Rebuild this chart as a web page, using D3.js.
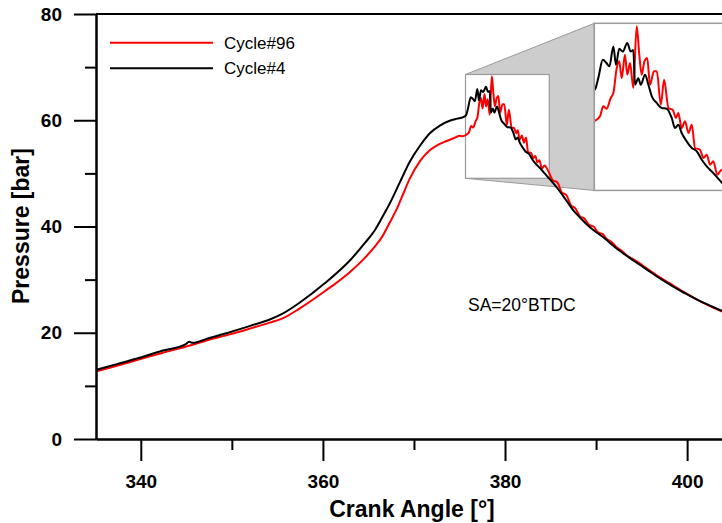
<!DOCTYPE html>
<html><head><meta charset="utf-8">
<script src="https://cdn.jsdelivr.net/npm/d3@7"></script>
<style>
body{margin:0;background:#fff;}
svg{display:block;}
text{font-family:"Liberation Sans",Arial,sans-serif;}
</style></head><body>
<svg id="chart" width="722" height="523"></svg>
<script>
// ---- data ----
const seriesNames = ["Cycle#96", "Cycle#4"];
const seriesColors = ["#ff0000", "#000000"];

const cycle4Angle = [335.06,337.38,339.86,342.34,344.90,345.30,345.70,347.30,349.78,352.01,354.16,355.57,357.47,360.20,363.01,364.66,365.74,366.73,367.39,368.47,369.54,370.70,371.77,372.85,373.92,374.75,375.41,
375.71,375.93,376.24,376.49,376.69,376.96,377.14,377.36,377.60,377.91,378.14,378.32,378.44,378.66,378.83,379.12,379.35,379.58,379.92,380.26,380.60,380.94,381.17,381.39,381.62,381.96,382.31,382.65,382.99,383.33,383.78,384.35,
384.92,385.75,386.57,387.48,388.23,389.05,389.88,390.54,391.20,391.95,392.78,393.60,394.84,396.08,397.32,398.48,399.80,401.04,402.28,403.85];
const cycle4Pressure = [13.0,14.1,15.3,16.6,17.8,18.3,18.1,18.9,20.1,21.3,22.5,23.6,25.7,29.3,33.7,37.0,39.4,42.4,44.5,48.4,52.2,55.3,57.6,59.0,59.9,60.3,60.6,
60.9,62.2,64.35,63.97,63.58,65.9,63.77,65.64,65.3,66.3,65.3,65.5,61.43,62.2,61.43,62.6,61.43,60.08,59.3,58.7,58.63,57.54,56.37,56.75,55.78,54.81,54.03,53.64,52.66,51.89,51.1,50.0,
48.9,47.2,45.3,43.1,41.7,40.3,39.1,38.3,37.4,36.3,35.2,34.2,32.75,31.3,29.9,28.7,27.4,26.3,25.3,24.1];

const cycle96Angle = [335.06,337.38,339.86,342.34,345.40,347.30,349.78,352.01,354.16,355.57,357.47,360.20,363.01,364.66,365.74,366.48,367.39,368.14,368.88,369.54,370.70,371.77,372.68,373.59,374.59,375.00,375.33,
375.71,376.05,376.27,376.50,376.78,376.96,377.19,377.36,377.53,377.75,377.91,378.10,378.32,378.55,378.73,378.89,379.08,379.27,379.46,379.73,379.92,380.20,380.42,380.72,381.01,381.23,381.39,381.62,381.85,382.08,382.31,382.53,382.87,383.10,383.33,383.56,383.78,384.05,384.35,
384.76,385.25,385.75,386.24,386.74,387.24,387.73,388.23,388.72,389.22,389.72,390.21,390.71,391.20,391.70,392.20,392.78,393.35,393.93,394.84,395.67,396.50,397.32,398.56,399.80,401.04,402.28,403.85];
const cycle96Pressure = [12.7,13.8,15.0,16.2,17.6,18.6,19.7,20.8,21.9,22.7,24.6,27.8,31.5,34.2,36.3,38.0,40.9,43.4,46.4,49.0,52.4,54.4,55.4,56.1,56.8,57.1,57.0,
57.22,57.74,58.9,58.63,59.88,60.46,63.38,64.17,62.2,64.94,62.6,63.97,61.05,68.26,64.94,62.6,64.17,64.55,61.43,63.0,63.0,59.09,62.0,58.7,58.5,57.54,58.12,56.37,57.15,55.78,56.75,54.03,53.83,52.86,53.25,52.08,52.47,50.9,51.49,
50.4,48.7,48.3,46.4,45.9,44.0,43.4,41.9,41.5,40.3,40.0,38.9,38.6,37.6,37.1,36.2,35.5,34.6,34.0,33.0,32.0,31.0,30.1,28.8,27.5,26.3,25.2,24.0];

const xMajorTicks = [340, 360, 380, 400];
const xMinorTicks = [350, 370, 390];
const yMajorTicks = [0, 20, 40, 60, 80];
const yMinorTicks = [10, 30, 50, 70];
const xDomain = [335.08, 403.83];
const yDomain = [0, 80];
const insetAngleRange = [375.66, 384.86];
const insetPressureRange = [49.07, 68.61];
const xTitle = "Crank Angle [°]";
const yTitle = "Pressure [bar]";
const annotation = "SA=20°BTDC";

// ---- drawing ----
const svg = d3.select("#chart");
const L = 96, R = 722, T = 14, B = 439;
const x = d3.scaleLinear().domain(xDomain).range([L, R]);
const y = d3.scaleLinear().domain(yDomain).range([B, T]);

const series = [
  {name: seriesNames[0], color: seriesColors[0], pts: cycle96Angle.map((a,i)=>[a, cycle96Pressure[i]])},
  {name: seriesNames[1], color: seriesColors[1], pts: cycle4Angle.map((a,i)=>[a, cycle4Pressure[i]])}
];

// small zoom rect (main coords)
const sx0 = x(insetAngleRange[0]), sx1 = x(insetAngleRange[1]);
const sy0 = y(insetPressureRange[1]), sy1 = y(insetPressureRange[0]);
const mag = 1.61;
const bx0 = 594.3, by0 = 23.3;
const bx1 = bx0 + (sx1 - sx0) * mag, by1 = by0 + (sy1 - sy0) * mag;

// connector polygon
svg.append("path")
  .attr("d", `M${sx0},${sy0}L${bx0},${by0}L${bx0},${by1}L${sx0},${sy1}Z`)
  .attr("fill", "#cdcdcd").attr("stroke", "#9a9a9a").attr("stroke-width", 1);
svg.append("rect").attr("x", sx0).attr("y", sy0).attr("width", sx1 - sx0).attr("height", sy1 - sy0)
  .attr("fill", "#fff").attr("stroke", "#9a9a9a").attr("stroke-width", 1.2);

svg.append("clipPath").attr("id", "plotClip").append("rect")
  .attr("x", L).attr("y", T).attr("width", R - L).attr("height", B - T);

const line = d3.line().x(d => x(d[0])).y(d => y(d[1])).curve(d3.curveMonotoneX);
const gMain = svg.append("g").attr("clip-path", "url(#plotClip)");
series.forEach(s => {
  gMain.append("path").attr("d", line(s.pts)).attr("fill", "none")
    .attr("stroke", s.color).attr("stroke-width", 2).attr("stroke-linejoin", "round");
});

// axes
const axisFont = g => g.selectAll("text").attr("font-family", '"Liberation Sans",Arial,sans-serif')
  .attr("font-size", 19).attr("font-weight", "bold").attr("fill", "#000");
const gx = svg.append("g").attr("transform", `translate(0,${B})`)
  .call(d3.axisBottom(x).tickValues(xMajorTicks).tickSize(22).tickSizeOuter(0).tickPadding(14).tickFormat(d3.format("d")));
gx.call(axisFont);
svg.append("g").attr("transform", `translate(0,${B})`)
  .call(d3.axisBottom(x).tickValues(xMinorTicks).tickSize(11).tickSizeOuter(0).tickFormat(""));
const gy = svg.append("g").attr("transform", `translate(${L},0)`)
  .call(d3.axisLeft(y).tickValues(yMajorTicks).tickSize(22).tickSizeOuter(0).tickPadding(12).tickFormat(d3.format("d")));
gy.call(axisFont);
svg.append("g").attr("transform", `translate(${L},0)`)
  .call(d3.axisLeft(y).tickValues(yMinorTicks).tickSize(11).tickSizeOuter(0).tickFormat(""));
svg.selectAll(".domain, .tick line").attr("stroke", "#000").attr("stroke-width", 2);
// top frame
svg.append("line").attr("x1", L).attr("x2", R).attr("y1", y(80)).attr("y2", y(80))
  .attr("stroke", "#000").attr("stroke-width", 2);

// titles
svg.append("text").attr("x", 412).attr("y", 517).attr("text-anchor", "middle")
  .attr("font-size", 23).attr("font-weight", "bold").text(xTitle);
svg.append("text").attr("transform", `translate(29,226) rotate(-90)`).attr("text-anchor", "middle")
  .attr("font-size", 23).attr("font-weight", "bold").text(yTitle);

// big inset
svg.append("clipPath").attr("id", "insetClip").append("rect")
  .attr("x", bx0).attr("y", by0).attr("width", bx1 - bx0).attr("height", by1 - by0);
svg.append("rect").attr("x", bx0).attr("y", by0).attr("width", bx1 - bx0).attr("height", by1 - by0)
  .attr("fill", "#fff");
const ix = d3.scaleLinear().domain(insetAngleRange).range([bx0, bx1]);
const iy = d3.scaleLinear().domain(insetPressureRange).range([by1, by0]);
const iline = d3.line().x(d => ix(d[0])).y(d => iy(d[1])).curve(d3.curveMonotoneX);
const gIn = svg.append("g").attr("clip-path", "url(#insetClip)");
series.forEach(s => {
  gIn.append("path").attr("d", iline(s.pts)).attr("fill", "none")
    .attr("stroke", s.color).attr("stroke-width", 2).attr("stroke-linejoin", "round");
});
svg.append("rect").attr("x", bx0).attr("y", by0).attr("width", bx1 - bx0).attr("height", by1 - by0)
  .attr("fill", "none").attr("stroke", "#9a9a9a").attr("stroke-width", 1.5);

// legend
const legY = [42.7, 68.3];
series.forEach((s, i) => {
  svg.append("line").attr("x1", 110).attr("x2", 213).attr("y1", legY[i]).attr("y2", legY[i])
    .attr("stroke", s.color).attr("stroke-width", 2);
  svg.append("text").attr("x", 224).attr("y", legY[i] + 6).attr("font-size", 17).text(s.name);
});

// annotation
svg.append("text").attr("x", 468).attr("y", 310.5).attr("font-size", 17.5).text(annotation);
</script>
</body></html>
